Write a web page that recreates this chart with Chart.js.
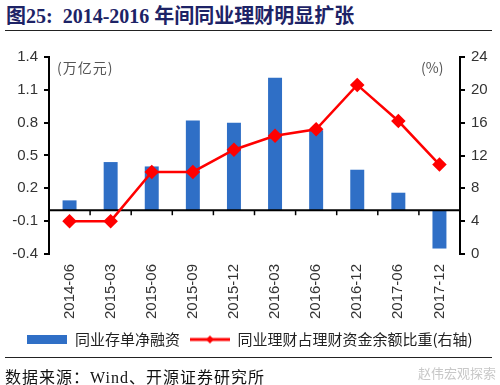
<!DOCTYPE html>
<html><head><meta charset="utf-8">
<script src="https://cdn.jsdelivr.net/npm/chart.js@4/dist/chart.umd.min.js"></script>
<style>
body{margin:0;width:500px;height:385px;overflow:hidden;background:#fff;position:relative;}
#title{position:absolute;left:6px;top:0px;font:bold 20px "Liberation Serif","Noto Sans CJK SC",serif;color:#1d2366;white-space:nowrap;}
#tline{position:absolute;left:5px;top:30px;width:487px;height:0;border-top:1.5px solid #222;}
#fline{position:absolute;left:5px;top:357px;width:487px;height:0;border-top:1.5px solid #222;}
#src{position:absolute;left:5px;top:364px;font:16px "Liberation Serif","Noto Sans CJK SC",serif;color:#111;white-space:nowrap;letter-spacing:1px;}
#wm{position:absolute;left:418px;top:363px;font:13px "Noto Sans CJK SC",sans-serif;color:#c8c8c8;white-space:nowrap;}
#wrap{position:absolute;left:0;top:0;width:500px;height:361px;}
.unit{position:absolute;font:14px "Noto Sans CJK SC",sans-serif;color:#555;white-space:nowrap;}
</style></head>
<body>
<div id="title">图25:&nbsp; 2014-2016 年间同业理财明显扩张</div>
<div id="tline"></div>
<div id="wrap"><canvas id="c"></canvas></div>
<div class="unit" style="left:57px;top:57px;letter-spacing:1px;">(万亿元)</div>
<div class="unit" style="left:421px;top:57px;">(%)</div>
<div id="fline"></div>
<div id="src">数据来源：Wind、开源证券研究所</div>
<div id="wm">赵伟宏观探索</div>
<script>
const categories = ['2014-06','2015-03','2015-06','2015-09','2015-12','2016-03','2016-06','2016-12','2017-06','2017-12'];
const netFinancing = [0.09,0.44,0.40,0.82,0.80,1.21,0.73,0.37,0.16,-0.35];
const wmpShare = [4.0,4.0,10.0,10.0,12.7,14.4,15.2,20.6,16.2,10.9];
const leftTicks = [-0.4,-0.1,0.2,0.5,0.8,1.1,1.4];
const rightTicks = [0,4,8,12,16,20,24];
const seriesNames = ['同业存单净融资','同业理财占理财资金余额比重(右轴)'];

const barColor = '#2f6fc6';
const lineColor = '#ff0000';

function boxImg(){const c=document.createElement('canvas');c.width=40;c.height=9;const g=c.getContext('2d');g.fillStyle=barColor;g.fillRect(0,0,40,9);return c;}
function lineImg(){const c=document.createElement('canvas');c.width=40;c.height=10;const g=c.getContext('2d');
  g.strokeStyle=lineColor;g.lineWidth=3;g.beginPath();g.moveTo(0,5);g.lineTo(40,5);g.stroke();
  g.fillStyle=lineColor;g.beginPath();g.moveTo(20,1);g.lineTo(24,5);g.lineTo(20,9);g.lineTo(16,5);g.closePath();g.fill();return c;}
const imgs=[boxImg(),lineImg()];

const zeroLine = {
  id:'zeroLine',
  afterDatasetDraw(chart,args){
    if(args.index!==0) return;
    const ctx=chart.ctx, y=chart.scales.y.getPixelForValue(0), x=chart.scales.x, a=chart.chartArea;
    ctx.save();ctx.strokeStyle='#000';ctx.lineWidth=2;
    ctx.beginPath();ctx.moveTo(a.left,y);ctx.lineTo(a.right,y);ctx.stroke();
    ctx.lineWidth=1.5;
    for(let i=0;i<categories.length-1;i++){
      const px=(x.getPixelForValue(i)+x.getPixelForValue(i+1))/2;
      ctx.beginPath();ctx.moveTo(px,y);ctx.lineTo(px,y+5);ctx.stroke();
    }
    ctx.restore();
  }
};

const tickFont={family:'"Liberation Sans", Arial, sans-serif',size:15};
new Chart(document.getElementById('c'),{
  data:{labels:categories,datasets:[
    {type:'bar',label:seriesNames[0],data:netFinancing,backgroundColor:barColor,yAxisID:'y',barPercentage:0.34,categoryPercentage:1,order:1},
    {type:'line',label:seriesNames[1],data:wmpShare,borderColor:lineColor,backgroundColor:lineColor,borderWidth:2.5,yAxisID:'y1',
     pointStyle:'rectRot',pointRadius:5.5,pointBackgroundColor:lineColor,pointBorderColor:lineColor,tension:0,order:0}
  ]},
  plugins:[zeroLine],
  options:{
    responsive:true,maintainAspectRatio:false,animation:false,
    layout:{padding:{top:57,left:0,right:0,bottom:4}},
    plugins:{
      tooltip:{enabled:false},
      legend:{position:'bottom',labels:{usePointStyle:true,pointStyleWidth:40,padding:10,color:'#222',
        font:{family:'"Noto Sans CJK SC", sans-serif',size:15},
        generateLabels(chart){return chart.data.datasets.map((d,i)=>({text:d.label,pointStyle:imgs[i],datasetIndex:i,hidden:false,fontColor:'#222',lineWidth:0,strokeStyle:'transparent',fillStyle:'transparent'}));}
      }}
    },
    scales:{
      x:{offset:true,grid:{display:false,drawTicks:false},border:{display:false},
        ticks:{minRotation:90,maxRotation:90,autoSkip:false,font:tickFont,color:'#333',padding:10},
        afterFit(s){s.height=68;}},
      y:{position:'left',min:-0.4,max:1.4,
        afterBuildTicks(s){s.ticks=leftTicks.map(v=>({value:v}));},
        ticks:{callback:v=>Number(v).toFixed(1),font:tickFont,color:'#333',padding:6},
        grid:{drawOnChartArea:false,color:'#000',tickLength:5,lineWidth:2},
        border:{color:'#000',width:2},
        afterFit(s){s.width=49;}},
      y1:{position:'right',min:0,max:24,
        afterBuildTicks(s){s.ticks=rightTicks.map(v=>({value:v}));},
        ticks:{callback:v=>String(v),font:tickFont,color:'#333',padding:6},
        grid:{drawOnChartArea:false,color:'#000',tickLength:5,lineWidth:2},
        border:{color:'#000',width:2},
        afterFit(s){s.width=40;}}
    }
  }
});
</script>
</body></html>
